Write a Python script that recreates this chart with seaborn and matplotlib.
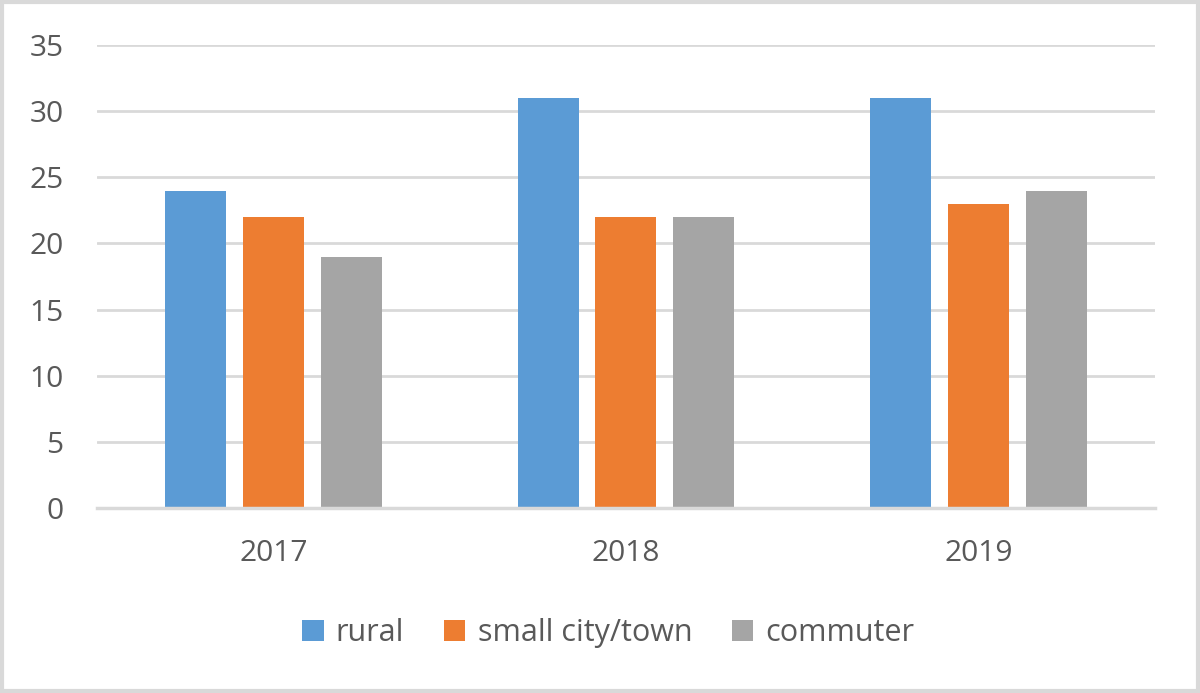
import matplotlib
matplotlib.use("Agg")
import matplotlib.pyplot as plt
import seaborn as sns
import pandas as pd
from matplotlib.patches import Rectangle

years = ["2017", "2018", "2019"]
series_names = ["rural", "small city/town", "commuter"]
rural = [24, 31, 31]
small_city = [22, 22, 23]
commuter = [19, 22, 24]
y_ticks = [0, 5, 10, 15, 20, 25, 30, 35]
colors = ["#5B9BD5", "#ED7D31", "#A5A5A5"]

rows = []
for name, vals in zip(series_names, [rural, small_city, commuter]):
    for y, v in zip(years, vals):
        rows.append({"year": y, "series": name, "value": v})
df = pd.DataFrame(rows)

sns.set_theme(style="white")
plt.rcParams["font.family"] = ["Open Sans", "DejaVu Sans"]

fig = plt.figure(figsize=(12, 6.93), dpi=100)
ax = fig.add_axes([0.0808, 0.267, 0.8817, 0.668])

sns.barplot(data=df, x="year", y="value", hue="series", hue_order=series_names,
            order=years, palette=colors, saturation=1, width=0.663, gap=0.217, ax=ax,
            errorbar=None, legend=False, linewidth=0, zorder=3)

ax.set_ylim(0, 35)
ax.set_xlim(-0.5, 2.5)
ax.set_yticks(y_ticks)
ax.set_yticklabels([str(t) for t in y_ticks])
ax.yaxis.grid(True, color="#D9D9D9", linewidth=2.0, zorder=0)
ax.set_axisbelow(True)
for s in ["top", "right", "left"]:
    ax.spines[s].set_visible(False)
ax.spines["bottom"].set_color("#D9D9D9")
ax.spines["bottom"].set_linewidth(2.5)
ax.spines["bottom"].set_zorder(4)
ax.tick_params(axis="both", length=0, labelsize=21.5, labelcolor="#595959")
ax.tick_params(axis="x", pad=22)
ax.tick_params(axis="y", pad=24)
ax.set_xlabel("")
ax.set_ylabel("")

handles = [Rectangle((0, 0), 1, 1, facecolor=c, edgecolor="none") for c in colors]
fig.legend(handles, series_names, loc="center", bbox_to_anchor=(0.507, 0.086),
           ncol=3, frameon=False, fontsize=22, labelcolor="#595959",
           handlelength=0.7, handleheight=0.7, handletextpad=0.4, columnspacing=1.3)

fig.patches.append(Rectangle((0.0015, 0.0025), 0.997, 0.995, transform=fig.transFigure,
                             fill=False, edgecolor="#D9D9D9", linewidth=3))

fig.savefig("out.png", dpi=100)
